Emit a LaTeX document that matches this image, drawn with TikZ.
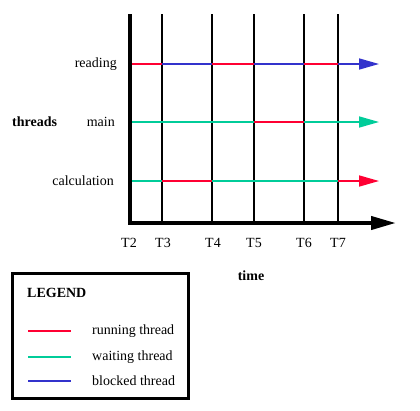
\documentclass[tikz,border=0pt]{standalone}
\usepackage{fontspec}
\setmainfont{Liberation Serif}
\usetikzlibrary{arrows.meta}
\definecolor{runc}{RGB}{255,0,51}
\definecolor{waitc}{RGB}{0,204,153}
\definecolor{blockc}{RGB}{51,51,204}
\tikzset{
  lbl/.style={inner sep=0pt,font=\fontsize{14}{16}\selectfont},
  blbl/.style={inner sep=0pt,font=\fontsize{14}{16}\selectfont\bfseries},
  grid/.style={black,line width=1.1pt},
  axis/.style={black,line width=4pt},
  seg/.style={line width=1.6pt},
  legline/.style={line width=1.4pt},
  tip/.style={-{Triangle[length=20pt,width=11pt]}},
}
\begin{document}
\begin{tikzpicture}[x=1pt,y=-1pt]
\useasboundingbox[fill=white] (0,0) rectangle (420,410);
% axes
\coordinate (o) at (130,223);
\coordinate (ytop) at (130,14);
\coordinate (xend) at (396,223);
% vertical time lines
\foreach \n/\x in {3/162,4/212,5/254,6/304,7/338}{
  \coordinate (t\n top) at (\x,14);
  \coordinate (t\n bot) at (\x,223);
  \draw[grid] (t\n top) -- (t\n bot);
}
% row coordinates
\foreach \r/\y in {r/64,m/122,c/181}{
  \coordinate (\r0) at (131,\y);
  \coordinate (\r3) at (162,\y);
  \coordinate (\r4) at (212,\y);
  \coordinate (\r5) at (254,\y);
  \coordinate (\r6) at (304,\y);
  \coordinate (\r7) at (338,\y);
  \coordinate (\r8) at (379,\y);
}
% reading
\draw[seg,runc] (r0) -- (r3);
\draw[seg,blockc] (r3) -- (r4);
\draw[seg,runc] (r4) -- (r5);
\draw[seg,blockc] (r5) -- (r6);
\draw[seg,runc] (r6) -- (r7);
\draw[seg,blockc,tip] (r7) -- (r8);
% main
\draw[seg,waitc] (m0) -- (m5);
\draw[seg,runc] (m5) -- (m6);
\draw[seg,waitc,tip] (m6) -- (m8);
% calculation
\draw[seg,waitc] (c0) -- (c3);
\draw[seg,runc] (c3) -- (c4);
\draw[seg,waitc] (c4) -- (c7);
\draw[seg,runc,tip] (c7) -- (c8);
% axes drawn on top
\draw[axis] (ytop) -- ([yshift=-2pt]o);
\draw[axis,-{Triangle[length=25pt,width=13pt]}] ([xshift=-2pt]o) -- (xend);
% labels
\node[lbl,anchor=east] (lread) at (117,64) {reading};
\node[lbl,anchor=east] (lmain) at (115,122) {main};
\node[lbl,anchor=east] (lcalc) at (114,181) {calculation};
\node[blbl,anchor=west] (lthreads) at (12,122) {threads};
\node[lbl] (T2) at (129,243) {T2};
\node[lbl] (T3) at (163,243) {T3};
\node[lbl] (T4) at (213,243) {T4};
\node[lbl] (T5) at (254,243) {T5};
\node[lbl] (T6) at (304,243) {T6};
\node[lbl] (T7) at (338,243) {T7};
\node[blbl] (ltime) at (251,276) {time};
% legend
\node[draw,line width=3pt,minimum width=176pt,minimum height=125pt,inner sep=0pt] (legend) at (100,335.5) {};
\node[blbl,anchor=west] (lleg) at (27,293) {LEGEND};
\coordinate (la1) at (28,331); \coordinate (lb1) at (71,331);
\coordinate (la2) at (28,357); \coordinate (lb2) at (71,357);
\coordinate (la3) at (28,381); \coordinate (lb3) at (71,381);
\draw[legline,draw=runc] (la1) -- (lb1);
\draw[legline,draw=waitc] (la2) -- (lb2);
\draw[legline,draw=blockc] (la3) -- (lb3);
\node[lbl,anchor=west] (lrun) at (92,331) {running thread};
\node[lbl,anchor=west] (lwait) at (92,357) {waiting thread};
\node[lbl,anchor=west] (lblock) at (92,381) {blocked thread};
\end{tikzpicture}
\end{document}
